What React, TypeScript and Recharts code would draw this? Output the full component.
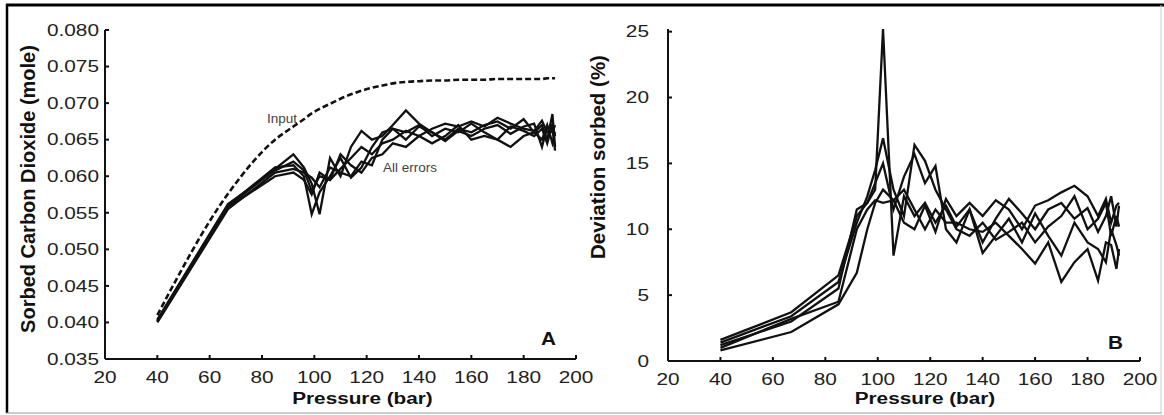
import React from "react";
import { LineChart, Line, XAxis, YAxis, Label } from "recharts";

// pressure grid (bar), shared by both panels
const pressure = [40, 67, 85, 92, 96, 99, 102, 106, 110, 114, 118, 122, 126, 130, 135, 140, 145, 150, 155, 160, 165, 170, 175, 180, 184, 187, 189, 191, 192];

// panel A: sorbed CO2 (mole)
const inputSorbed = [0.041, 0.0576, 0.065, 0.0668, 0.0678, 0.0686, 0.0692, 0.0699, 0.0706, 0.0712, 0.0717, 0.0721, 0.0724, 0.0727, 0.0729, 0.073, 0.0731, 0.0731, 0.0732, 0.0732, 0.0732, 0.0733, 0.0733, 0.0733, 0.0733, 0.0733, 0.0734, 0.0734, 0.0734];
const sorbed1 = [0.0403, 0.0558, 0.061, 0.063, 0.0612, 0.059, 0.0548, 0.0625, 0.06, 0.064, 0.0662, 0.065, 0.0655, 0.067, 0.069, 0.0672, 0.066, 0.065, 0.0665, 0.066, 0.067, 0.0675, 0.0665, 0.0678, 0.066, 0.067, 0.065, 0.0685, 0.064];
const sorbed2 = [0.0402, 0.056, 0.0612, 0.0615, 0.06, 0.0548, 0.0578, 0.06, 0.0625, 0.0598, 0.0612, 0.064, 0.066, 0.0665, 0.066, 0.067, 0.0655, 0.0665, 0.066, 0.0672, 0.066, 0.065, 0.0668, 0.0662, 0.0655, 0.0665, 0.0645, 0.0672, 0.0655];
const sorbed3 = [0.04, 0.0555, 0.0605, 0.061, 0.0605, 0.0598, 0.0585, 0.0612, 0.0605, 0.06, 0.062, 0.0615, 0.065, 0.0665, 0.065, 0.0668, 0.066, 0.0648, 0.0662, 0.0655, 0.0665, 0.067, 0.0658, 0.0668, 0.0672, 0.064, 0.0668, 0.066, 0.067];
const sorbed4 = [0.0404, 0.0562, 0.0608, 0.062, 0.0608, 0.058, 0.06, 0.0595, 0.063, 0.0615, 0.0605, 0.0625, 0.063, 0.0645, 0.064, 0.0655, 0.0645, 0.0655, 0.067, 0.065, 0.0655, 0.065, 0.064, 0.0655, 0.066, 0.065, 0.067, 0.0645, 0.066];
const sorbed5 = [0.0401, 0.0557, 0.06, 0.0605, 0.0595, 0.0575, 0.0605, 0.0595, 0.061, 0.0625, 0.064, 0.063, 0.0645, 0.065, 0.0662, 0.0655, 0.0665, 0.0672, 0.0668, 0.0675, 0.0668, 0.068, 0.0672, 0.0665, 0.0662, 0.0676, 0.066, 0.0665, 0.0635];

// panel B: deviation sorbed (%)
const dev1 = [1.6, 3.7, 6.5, 11.0, 12.0, 13.0, 25.2, 8.0, 12.5, 11.0, 12.0, 10.5, 11.8, 10.2, 11.5, 9.0, 10.8, 12.3, 11.2, 10.0, 11.5, 12.0, 10.8, 11.6, 9.8, 11.0, 12.5, 10.2, 11.8];
const dev2 = [1.4, 3.4, 6.0, 10.5, 12.5, 14.5, 16.9, 13.0, 11.0, 16.4, 15.2, 13.0, 11.5, 10.0, 9.5, 10.5, 9.2, 9.8, 10.5, 9.0, 10.2, 11.0, 12.5, 10.0, 10.8, 12.0, 9.5, 11.0, 10.2];
const dev3 = [1.2, 3.0, 5.5, 11.5, 12.0, 13.5, 15.0, 11.5, 14.0, 15.7, 13.5, 14.8, 10.0, 9.0, 11.5, 8.2, 9.5, 10.8, 9.0, 11.2, 9.5, 8.0, 10.5, 9.0, 8.5, 7.5, 10.0, 8.8, 8.0];
const dev4 = [0.8, 2.2, 4.3, 6.7, 10.0, 12.0, 13.0, 12.2, 10.5, 10.0, 11.8, 9.8, 12.3, 11.0, 12.0, 11.0, 12.2, 11.5, 10.0, 11.8, 12.2, 12.8, 13.3, 12.5, 11.0, 12.3, 10.5, 11.8, 12.0];
const dev5 = [1.0, 3.2, 4.5, 10.0, 11.5, 12.2, 12.0, 12.2, 13.0, 11.5, 10.0, 11.5, 10.5, 10.5, 10.0, 9.8, 10.5, 9.5, 8.5, 7.4, 9.0, 6.0, 7.5, 8.5, 6.1, 9.0, 8.8, 7.0, 8.5];

const xTicks = [20, 40, 60, 80, 100, 120, 140, 160, 180, 200];
const yTicksA = [0.035, 0.04, 0.045, 0.05, 0.055, 0.06, 0.065, 0.07, 0.075, 0.08];
const yTicksB = [0, 5, 10, 15, 20, 25];

const dataA = pressure.map((p, i) => ({
  p,
  input: inputSorbed[i],
  s1: sorbed1[i],
  s2: sorbed2[i],
  s3: sorbed3[i],
  s4: sorbed4[i],
  s5: sorbed5[i],
}));

const dataB = pressure.map((p, i) => ({
  p,
  d1: dev1[i],
  d2: dev2[i],
  d3: dev3[i],
  d4: dev4[i],
  d5: dev5[i],
}));

const FONT = "'Liberation Sans', Arial, sans-serif";
const INK = "#111";

function XTick(props: any) {
  const { x, y, payload } = props;
  return (
    <g transform={`translate(${x},${y})`}>
      <text transform="scale(1.3,1)" textAnchor="middle" dy="0.71em" fontSize={16} fontFamily={FONT} fill="#222">
        {payload.value}
      </text>
    </g>
  );
}

function YTick(props: any) {
  const { x, y, payload, digits } = props;
  return (
    <g transform={`translate(${x},${y})`}>
      <text transform="scale(1.3,1)" textAnchor="end" dy="0.36em" fontSize={16} fontFamily={FONT} fill="#222">
        {Number(payload.value).toFixed(digits)}
      </text>
    </g>
  );
}

const xTitle = (dx: number) => (props: any) => {
  const vb = props.viewBox;
  const cx = vb.x + vb.width / 2 + dx;
  return (
    <g transform={`translate(${cx},404)`}>
      <text transform="scale(1.22,1)" textAnchor="middle" fontSize={17} fontWeight="bold" fontFamily={FONT} fill={INK}>
        Pressure (bar)
      </text>
    </g>
  );
};

const yTitle = (text: string, x: number, cy: number, size: number) => () => (
  <text
    transform={`translate(${x},${cy}) rotate(-90)`}
    textAnchor="middle"
    fontSize={size}
    fontWeight="bold"
    fontFamily={FONT}
    fill={INK}
  >
    {text}
  </text>
);

const lineProps = {
  type: "linear" as const,
  stroke: INK,
  strokeWidth: 2.3,
  dot: false,
  isAnimationActive: false,
};

export default function App() {
  return (
    <div style={{ position: "absolute", left: 0, top: 0, width: 1164, height: 415, background: "#fff" }}>
      <div style={{ position: "absolute", left: 0, top: 0 }}>
        <LineChart width={600} height={415} data={dataA} margin={{ top: 30, right: 24, bottom: 16, left: 0 }}>
          <XAxis
            dataKey="p"
            type="number"
            domain={[20, 200]}
            ticks={xTicks}
            interval={0}
            height={40}
            stroke={INK}
            strokeWidth={2}
            tickSize={-4}
            tickMargin={17}
            tick={<XTick />}
          >
            <Label content={xTitle(22)} />
          </XAxis>
          <YAxis
            type="number"
            domain={[0.035, 0.08]}
            ticks={yTicksA}
            interval={0}
            width={105}
            stroke={INK}
            strokeWidth={2}
            tickSize={-4}
            tickMargin={10}
            tick={<YTick digits={3} />}
          >
            <Label content={yTitle("Sorbed Carbon Dioxide (mole)", 35, 189, 20)} />
          </YAxis>
          <Line dataKey="input" {...lineProps} type="monotone" strokeWidth={2.6} strokeDasharray="6 3" />
          <Line dataKey="s1" {...lineProps} />
          <Line dataKey="s2" {...lineProps} />
          <Line dataKey="s3" {...lineProps} />
          <Line dataKey="s4" {...lineProps} />
          <Line dataKey="s5" {...lineProps} />
        </LineChart>
      </div>
      <div style={{ position: "absolute", left: 580, top: 0 }}>
        <LineChart width={584} height={415} data={dataB} margin={{ top: 29, right: 24, bottom: 14, left: 0 }}>
          <XAxis
            dataKey="p"
            type="number"
            domain={[20, 200]}
            ticks={xTicks}
            interval={0}
            height={40}
            stroke={INK}
            strokeWidth={2}
            tickSize={-4}
            tickMargin={17}
            tick={<XTick />}
          >
            <Label content={xTitle(21)} />
          </XAxis>
          <YAxis
            type="number"
            domain={[0, 25]}
            ticks={yTicksB}
            interval={0}
            width={88}
            stroke={INK}
            strokeWidth={2}
            tickSize={-4}
            tickMargin={23}
            tick={<YTick digits={0} />}
          >
            <Label content={yTitle("Deviation sorbed (%)", 25, 157, 20.5)} />
          </YAxis>
          <Line dataKey="d1" {...lineProps} />
          <Line dataKey="d2" {...lineProps} />
          <Line dataKey="d3" {...lineProps} />
          <Line dataKey="d4" {...lineProps} />
          <Line dataKey="d5" {...lineProps} />
        </LineChart>
      </div>
      <svg width={1164} height={415} style={{ position: "absolute", left: 0, top: 0, pointerEvents: "none" }}>
        <line x1={6} y1={5} x2={1164} y2={5} stroke="#000" strokeWidth={3} />
        <line x1={7} y1={4} x2={7} y2={413} stroke="#000" strokeWidth={2.5} />
        <line x1={6} y1={413} x2={1162} y2={413} stroke="#999" strokeWidth={1} />
        <line x1={1161} y1={5} x2={1161} y2={413} stroke="#ccc" strokeWidth={1} />
        <text x={267} y={123} fontSize={13.5} fontFamily={FONT} fill="#444">Input</text>
        <text x={383} y={172} fontSize={13.5} fontFamily={FONT} fill="#444">All errors</text>
        <g transform="translate(541,345)">
          <text transform="scale(1.15,1)" fontSize={18} fontWeight="bold" fontFamily={FONT} fill={INK}>A</text>
        </g>
        <g transform="translate(1108,349)">
          <text transform="scale(1.15,1)" fontSize={18} fontWeight="bold" fontFamily={FONT} fill={INK}>B</text>
        </g>
      </svg>
    </div>
  );
}
